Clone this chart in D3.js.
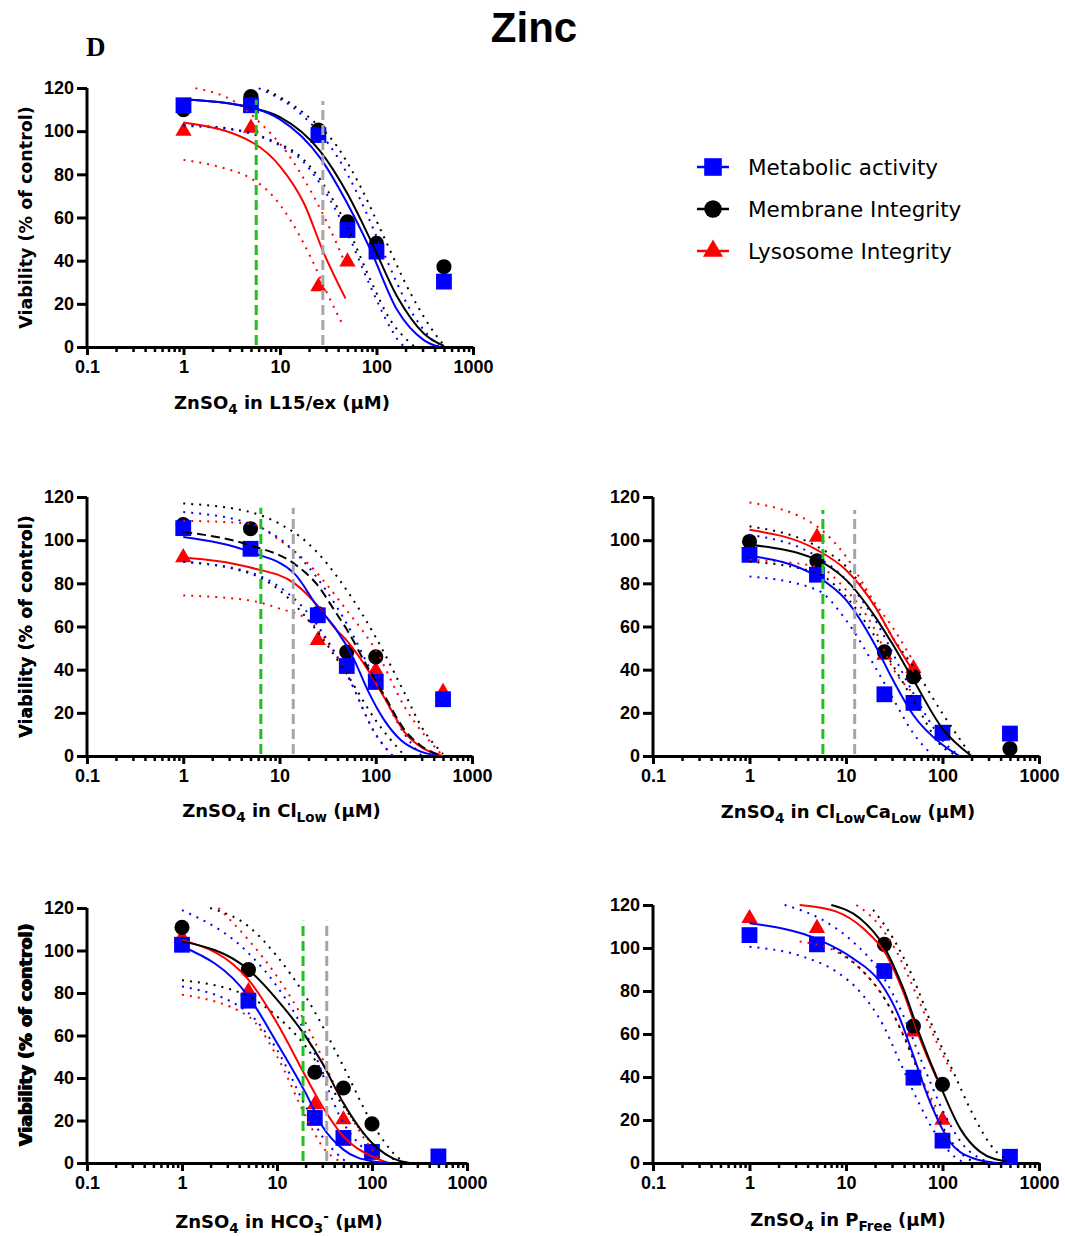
<!DOCTYPE html>
<html>
<head>
<meta charset="utf-8">
<script src="https://cdn.jsdelivr.net/npm/d3@7"></script>
<style>
  body { margin: 0; background: #fff; }
  text { font-family: "Liberation Sans", Arial, sans-serif; }
  .wide { font-family: "DejaVu Sans", Verdana, sans-serif; }
</style>
</head>
<body>
<div id="chart"></div>
<script>
// ---- data ----
var doses = [1, 5, 25, 50, 100, 500];
var seriesNames = ["Metabolic activity", "Membrane Integrity", "Lysosome Integrity"];
var seriesColors = ["#0000ff", "#000000", "#ff0000"];
var xTicks = [0.1, 1, 10, 100, 1000];
var yTicks = [0, 20, 40, 60, 80, 100, 120];

// viability (% of control) per dose; order: metabolic, membrane, lysosome
var pointsL15 = [
  [112, 112, 98.2, 54.2, 44.2, 30.3],
  [110, 116, 100.5, 58, 48, 37.2],
  [100, 101.5, 28, 39.5, null, null]
];
var pointsClLow = [
  [105.6, 96, 65.2, 41.7, 34.3, 26.3],
  [107.2, 105.3, 66, 48.2, 45.9, null],
  [92, 95, 53.6, null, 39.7, 29.6]
];
var pointsClLowCaLow = [
  [93.2, 84, 28.6, 24.6, 10.8, 10.4],
  [99.4, 90.4, 48.3, 36.7, 10.5, 3.4],
  [null, 101.4, 46.8, 40.6, null, null]
];
var pointsHCO3 = [
  [102.7, 76.4, 21.2, 11.8, 5.2, 3.1],
  [110.9, 91, 42.7, 35.3, 18.4, null],
  [106, 80.8, 27.5, 20.4, null, null]
];
var pointsPFree = [
  [106, 101.7, 89.3, 39.7, 10.4, 2.9],
  [null, null, 101.7, 63.7, 36.6, null],
  [113.8, 109.2, null, 61, 20, null]
];

// fitted curves: [dose, viability]
var fitsL15 = [
  [[1, 114.8], [5.35, 110.6], [10, 105.5], [26.3, 87.4], [49.7, 66.6], [86.7, 45], [164, 17.1], [309, 3.2], [450, 0]],
  [[1, 114.8], [5.35, 110.6], [10, 106.5], [26.3, 90.5], [49.7, 71.2], [86.7, 49.6], [164, 23.3], [309, 6.3], [500, 0.5]],
  [[1, 104], [5.35, 94.4], [10.1, 83.5], [17.7, 66.6], [28.5, 43.4], [47.7, 22.5]]
];
var fitsClLow = [
  [[1, 101.5], [5, 94.5], [14.3, 84.5], [25, 69], [37.2, 59.8], [60, 44.3], [82.6, 30.4], [123, 16.5], [183, 7.3], [273, 2.6], [450, 0]],
  [[1, 103.8], [5, 97.6], [14.3, 89], [25, 79], [37.2, 67.5], [51, 58], [82.6, 41], [123, 28], [200, 12], [300, 4.5], [500, 0]],
  [[1, 92], [5, 87.3], [14.3, 80], [25, 69.5], [37.2, 59.5], [51, 53], [82.6, 40], [123, 27], [200, 11], [300, 4], [500, 0]]
];
var fitsClLowCaLow = [
  [[1, 92.8], [5, 83.2], [10, 72.3], [20, 51.4], [30, 36], [50, 18.9], [100, 5.2], [150, 0]],
  [[1, 97.9], [5, 90.9], [10, 81.6], [20, 64.6], [30, 52.2], [50, 35.2], [100, 12.7], [200, 0]],
  [[1, 104.8], [5, 95.5], [10, 86.2], [20, 69.2], [30, 55.3], [50, 39]]
];
var fitsHCO3 = [
  [[1, 102], [5, 78.4], [10, 56.5], [20, 33], [30, 17.3], [50, 6.3], [100, 0.8], [150, 0]],
  [[1, 104.3], [5, 91], [10, 76.9], [20, 59.6], [30, 47], [50, 28.2], [100, 9.4], [200, 0.8], [250, 0]],
  [[1, 105], [5, 86.3], [10, 65.9], [20, 40.8], [30, 26.7], [50, 12.5], [100, 3.1], [150, 0]]
];
var fitsPFree = [
  [[1, 111.5], [5.33, 103.7], [11.8, 95.2], [22.4, 84.3], [36.1, 67.3], [49.7, 50.2], [74, 28.5], [119, 9.9], [208, 2.2], [365, 0]],
  [[7.05, 120], [13.9, 113.8], [24.2, 101.4], [39.1, 81.3], [58.2, 59.5], [94, 36.3], [152, 16.1], [244, 5.3], [463, 0.6]],
  [[3.31, 120], [7.95, 116.9], [15, 109.2], [26.3, 96.7], [39.1, 79.7], [58.2, 58], [86.7, 39.4]]
];

// 95% confidence bands: [upper, lower] per series
var bandsL15 = [
  [[[6.03, 119.9], [17.7, 106.7], [39.2, 88.2], [68.3, 68.1], [119, 43.4], [225, 17.1], [393, 2.5], [450, 0]],
   [[1, 102.5], [3.6, 100.3], [7.95, 95.5], [17.7, 85.5], [30.8, 70.5], [49.7, 53], [86.7, 28], [139, 9], [177, 1.8], [200, 0]]],
  [[[7.37, 119], [17.7, 108.3], [39.2, 92.8], [68.3, 74.3], [119, 51.1], [225, 24.9], [425, 4.8], [520, 0]],
   [[1, 102.9], [3.6, 100.6], [7.95, 95.9], [17.7, 86.7], [30.8, 72.8], [49.7, 55.7], [86.7, 31], [139, 12.5], [208, 3.2], [250, 0]]],
  [[[1.33, 119.9], [3.6, 112.9], [6.28, 103.7], [11.9, 89.8], [22.4, 69.7], [33.4, 54.2], [45.8, 40.3]],
   [[1, 86.7], [2.42, 83.3], [4.95, 78.2], [7.95, 71.2], [12.8, 58.9], [20.7, 41.8], [30.8, 24.9], [45.8, 9.4]]]
];
var bandsClLow = [
  [[[1, 113], [5, 107.6], [10, 100.7], [20, 87.6], [50, 61.3], [100, 35], [200, 10], [300, 0]],
   [[1, 90], [5, 85], [10, 78.3], [20, 66], [50, 38], [100, 10], [150, 0]]],
  [[[1, 117], [5, 113], [10, 107.6], [20, 98.4], [50, 76.8], [100, 55], [200, 29], [300, 13.4], [500, 1]],
   [[1, 90], [5, 84.5], [10, 76.8], [20, 62.9], [50, 38], [100, 16.5], [200, 0]]],
  [[[1, 109], [5, 107.6], [10, 100], [20, 89], [50, 67.5], [100, 49], [200, 22.7], [500, 0]],
   [[1, 74.4], [5, 72], [10, 68.3], [20, 62.9], [50, 38], [100, 10], [150, 0]]]
];
var bandsClLowCaLow = [
  [[[1, 102.5], [5, 92.4], [10, 81.6], [20, 63], [50, 29], [100, 7.3], [150, 0]],
   [[1, 83.2], [5, 77], [10, 63], [20, 41.3], [30, 27.4], [50, 10.4], [80, 0]]],
  [[[1, 106.4], [5, 97.1], [10, 87.8], [20, 69.2], [30, 55.3], [50, 41.3], [100, 19.7], [200, 0]],
   [[1, 90.1], [5, 84.7], [10, 73.9], [20, 55.3], [50, 25.9], [100, 4.2], [150, 0]]],
  [[[1, 117.5], [5, 106.4], [10, 92.4], [20, 70.8], [30, 60], [50, 43.7]],
   [[1, 90.9], [5, 87.8], [10, 77], [20, 58.4], [30, 41.3], [50, 29]]]
];
var bandsHCO3 = [
  [[[1, 119], [5, 98.8], [10, 83.1], [20, 61.2], [50, 18.8], [100, 3.1], [120, 0]],
   [[1, 83.1], [5, 70.6], [10, 53.3], [20, 26.7], [30, 12.5], [50, 1.6], [55, 0]]],
  [[[1.98, 120], [5, 111.4], [10, 97.3], [20, 78.4], [50, 45.5], [100, 18.8], [200, 1.6], [230, 0]],
   [[1, 86], [5, 78.4], [10, 69], [20, 54.9], [50, 26.7], [100, 9.4], [200, 0]]],
  [[[2.42, 120], [5, 105], [10, 87.8], [20, 65.9], [50, 28.2], [100, 6.3], [130, 0]],
   [[1, 79.2], [5, 69], [10, 50.2], [20, 22], [30, 7.8], [50, 0]]]
];
var bandsPFree = [
  [[[2.31, 120], [5.33, 113.8], [11.8, 102.9], [22.4, 89], [39.1, 68.8], [63, 45.6], [102, 23.9], [164, 8.4], [265, 1.4], [330, 0]],
   [[1, 100.6], [3.58, 96], [7.95, 89], [13.9, 79.7], [24.2, 64.2], [36.1, 47.1], [53.8, 30.1], [86.7, 13], [140, 2.2], [170, 0]]],
  [[[19.1, 117.7], [30.8, 104.5], [49.7, 85.9], [80, 62.7], [129, 42.5], [208, 22.3], [336, 6.8], [500, 0.6]],
   [[7.33, 99.9], [13.9, 90.6], [26.3, 75], [39.1, 59.5], [58.2, 40.9], [94, 19.2], [140, 6.8], [193, 1.4], [230, 0]]],
  [[[12.8, 120], [20.6, 112.2], [33.4, 98.3], [53.8, 78.1], [86.7, 56.4], [129, 40.9]],
   [[3.31, 103], [7.95, 98.3], [16.3, 87.4], [26.3, 75], [42.4, 56.4], [63, 37.8], [86.7, 25.4]]]
];

// vertical reference lines: [dose, top] for green, gray
var refL15 = [[5.67, 114.5], [27.8, 114]];
var refClLow = [[6.4, 115], [13.9, 115]];
var refClLowCaLow = [[5.76, 114], [12.3, 114]];
var refHCO3 = [[18.8, 114], [33.4, 114]];
var refPFree = [];

var labelL15 = [["ZnSO", ""], ["4", "sub"], [" in L15/ex (\u03bcM)", ""]];
var labelClLow = [["ZnSO", ""], ["4", "sub"], [" in Cl", ""], ["Low", "sub"], [" (\u03bcM)", ""]];
var labelClLowCaLow = [["ZnSO", ""], ["4", "sub"], [" in Cl", ""], ["Low", "sub"], ["Ca", ""], ["Low", "sub"], [" (\u03bcM)", ""]];
var labelHCO3 = [["ZnSO", ""], ["4", "sub"], [" in HCO", ""], ["3", "sub"], ["-", "sup"], [" (\u03bcM)", ""]];
var labelPFree = [["ZnSO", ""], ["4", "sub"], [" in P", ""], ["Free", "sub"], [" (\u03bcM)", ""]];

// ---- layout ----
var panels = [
  {left: 87, right: 473, top: 88, bottom: 347, labelY: 409, points: pointsL15, fits: fitsL15, bands: bandsL15, refs: refL15, label: labelL15, dashed: [false, false, false]},
  {left: 87, right: 472, top: 497, bottom: 756, labelY: 817, points: pointsClLow, fits: fitsClLow, bands: bandsClLow, refs: refClLow, label: labelClLow, dashed: [false, true, false]},
  {left: 653, right: 1039, top: 497, bottom: 756, labelY: 818, points: pointsClLowCaLow, fits: fitsClLowCaLow, bands: bandsClLowCaLow, refs: refClLowCaLow, label: labelClLowCaLow, dashed: [false, false, false]},
  {left: 87, right: 467, top: 908, bottom: 1163, labelY: 1228, points: pointsHCO3, fits: fitsHCO3, bands: bandsHCO3, refs: refHCO3, label: labelHCO3, dashed: [false, false, false]},
  {left: 653, right: 1039, top: 905, bottom: 1163, labelY: 1226, points: pointsPFree, fits: fitsPFree, bands: bandsPFree, refs: refPFree, label: labelPFree, dashed: [false, false, false]}
];

var symbolTypes = [d3.symbolSquare, d3.symbolCircle, d3.symbolTriangle];
var symbolSizes = [250, 180, 115];
var refColors = ["#1fc01f", "#a6a6a6"];

var svg = d3.select("#chart").append("svg")
    .attr("width", 1065)
    .attr("height", 1236);

svg.append("text")
    .attr("x", 534).attr("y", 42)
    .attr("text-anchor", "middle")
    .style("font-size", "42px").style("font-weight", "bold")
    .text("Zinc");

svg.append("text")
    .attr("x", 86).attr("y", 56)
    .style("font-family", "'Liberation Serif', 'Times New Roman', serif")
    .style("font-size", "27px").style("font-weight", "bold")
    .text("D");

var minorTicks = [];
[0.1, 1, 10, 100].forEach(function (d) {
    for (var k = 2; k <= 9; k++) minorTicks.push(d * k);
});

panels.forEach(function (p, pi) {
    var x = d3.scaleLog().domain([0.1, 1000]).range([p.left, p.right]);
    var y = d3.scaleLinear().domain([0, 120]).range([p.bottom, p.top]);
    var g = svg.append("g");

    var clipId = "clip" + pi;
    svg.append("clipPath").attr("id", clipId)
        .append("rect")
        .attr("x", p.left).attr("y", p.top - 2)
        .attr("width", p.right - p.left).attr("height", p.bottom - p.top + 2);

    // axes
    var xMinor = g.append("g")
        .attr("transform", "translate(0," + p.bottom + ")")
        .call(d3.axisBottom(x).tickValues(minorTicks).tickSize(5).tickSizeOuter(0).tickFormat(""));
    xMinor.select(".domain").remove();
    xMinor.selectAll("line").attr("stroke-width", 2.5);

    var xAxis = g.append("g")
        .attr("transform", "translate(0," + p.bottom + ")")
        .call(d3.axisBottom(x).tickValues(xTicks).tickSize(8).tickSizeOuter(0).tickPadding(5)
            .tickFormat(function (d) { return d < 1 ? "0.1" : d3.format("d")(d); }));
    xAxis.select(".domain").attr("stroke-width", 3);
    xAxis.selectAll("line").attr("stroke-width", 3);
    xAxis.selectAll("text").style("font-size", "18px").style("font-weight", "bold").attr("fill", "#000");

    var yAxis = g.append("g")
        .attr("transform", "translate(" + p.left + ",0)")
        .call(d3.axisLeft(y).tickValues(yTicks).tickSize(10).tickSizeOuter(0).tickPadding(3));
    yAxis.select(".domain").attr("stroke-width", 3).attr("d", "M0," + (p.bottom + 1.5) + "V" + p.top);
    yAxis.selectAll("line").attr("stroke-width", 3);
    yAxis.selectAll("text").style("font-size", "18px").style("font-weight", "bold").attr("fill", "#000");

    g.append("text")
        .attr("class", "wide")
        .attr("transform", "translate(26," + ((p.top + p.bottom) / 2) + ") rotate(-90)")
        .attr("text-anchor", "middle")
        .attr("dominant-baseline", "central")
        .style("font-size", "17.5px").style("font-weight", "bold")
        .text("Viability (% of control)");

    // x label with sub/superscripts
    var lab = g.append("text")
        .attr("class", "wide")
        .attr("x", (p.left + p.right) / 2 + 2).attr("y", p.labelY)
        .attr("text-anchor", "middle")
        .style("font-size", "18px").style("font-weight", "bold");
    var shift = 0;
    p.label.forEach(function (seg) {
        var target = seg[1] === "sub" ? 5 : seg[1] === "sup" ? -7 : 0;
        lab.append("tspan")
            .attr("dy", target - shift)
            .style("font-size", seg[1] ? "13.5px" : "18px")
            .text(seg[0]);
        shift = target;
    });

    // data points: lysosome, membrane, metabolic (metabolic on top)
    [2, 1, 0].forEach(function (si) {
        var pts = doses.map(function (d, i) { return [d, p.points[si][i]]; })
            .filter(function (d) { return d[1] !== null; });
        g.selectAll(".pt" + si)
            .data(pts)
            .enter().append("path")
            .attr("d", d3.symbol().type(symbolTypes[si]).size(symbolSizes[si]))
            .attr("transform", function (d) { return "translate(" + x(d[0]) + "," + y(d[1]) + ")"; })
            .attr("fill", seriesColors[si]);
    });

    var line = d3.line()
        .x(function (d) { return x(d[0]); })
        .y(function (d) { return y(d[1]); })
        .curve(d3.curveMonotoneX);

    var curves = g.append("g").attr("clip-path", "url(#" + clipId + ")");

    // confidence bands (dotted)
    [2, 1, 0].forEach(function (si) {
        p.bands[si].forEach(function (band) {
            curves.append("path")
                .datum(band)
                .attr("d", line)
                .attr("fill", "none")
                .attr("stroke", seriesColors[si])
                .attr("stroke-width", 2)
                .attr("stroke-dasharray", "2,6");
        });
    });

    // fitted curves
    [2, 1, 0].forEach(function (si) {
        curves.append("path")
            .datum(p.fits[si])
            .attr("d", line)
            .attr("fill", "none")
            .attr("stroke", seriesColors[si])
            .attr("stroke-width", 2)
            .attr("stroke-dasharray", p.dashed[si] ? "9,5" : null);
    });

    // reference lines
    p.refs.forEach(function (r, ri) {
        g.append("line")
            .attr("x1", x(r[0])).attr("x2", x(r[0]))
            .attr("y1", y(0) - 2).attr("y2", y(r[1]))
            .attr("stroke", refColors[ri])
            .attr("stroke-width", 3)
            .attr("stroke-dasharray", "10,5");
    });
});

// legend
var legend = svg.append("g");
seriesNames.forEach(function (name, i) {
    var ly = 167 + i * 42;
    legend.append("line")
        .attr("x1", 697).attr("x2", 729)
        .attr("y1", ly).attr("y2", ly)
        .attr("stroke", seriesColors[i]).attr("stroke-width", 2.5);
    legend.append("path")
        .attr("d", d3.symbol().type(symbolTypes[i]).size(symbolSizes[i] + 60))
        .attr("transform", "translate(713," + ly + ")")
        .attr("fill", seriesColors[i]);
    legend.append("text")
        .attr("class", "wide")
        .attr("x", 748).attr("y", ly)
        .attr("dominant-baseline", "central")
        .style("font-size", "21.5px")
        .text(name);
});
</script>
</body>
</html>
